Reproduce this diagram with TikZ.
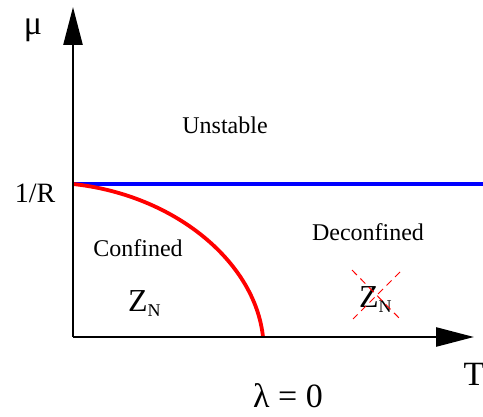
\documentclass[tikz,border=0pt]{standalone}
\usepackage{fontspec}
\setmainfont{Liberation Serif}
\usetikzlibrary{arrows.meta}
\begin{document}
\begin{tikzpicture}[x=1pt,y=-1pt,
  axis/.style={line width=2.6pt,-{Triangle[length=38pt,width=19pt]}},
  lbl/.style={inner sep=0pt,font=\fontsize{24}{24}\selectfont},
  big/.style={inner sep=0pt,font=\fontsize{34}{34}\selectfont},
  zn/.style={inner sep=0pt,anchor=base west,font=\fontsize{32}{32}\selectfont},
  cross/.style={red,line width=1pt,dash pattern=on 7pt off 5pt}]
\useasboundingbox (0,0) rectangle (483,417);
\coordinate (O) at (73,337);
\coordinate (Ytip) at (73,7);
\coordinate (Xtip) at (474,337);
\coordinate (B0) at (73,184);
\coordinate (B1) at (483,184);
\coordinate (R1) at (263,337);
\draw[blue,line width=3.8pt] (B0) -- (B1);
\draw[red,line width=3.8pt] (B0) .. controls (175,195) and (255,262) .. (R1);
\draw[axis] (O) -- (Ytip);
\draw[axis] (O) -- (Xtip);
\node[big] (mu) at (33,30) {μ};
\node[big] (T) at (474,374) {T};
\node[lbl,font=\fontsize{28}{28}\selectfont] (R) at (35,193) {1/R};
\node[lbl] (uns) at (225,125) {Unstable};
\node[lbl] (conf) at (138,248) {Confined};
\node[lbl] (dec) at (368,232) {Deconfined};
\node[zn] (z1) at (128,312) {Z\raisebox{-5pt}{\fontsize{18}{18}\selectfont N}};
\node[zn] (z2) at (359,308) {Z\raisebox{-5pt}{\fontsize{18}{18}\selectfont N}};
\coordinate (c1) at (352,270);
\coordinate (c2) at (400,319);
\coordinate (c3) at (400,272);
\coordinate (c4) at (353,319);
\draw[cross] (c1) -- (c2);
\draw[cross] (c3) -- (c4);
\node[big,anchor=base] (lam) at (288,408) {λ = 0};
\end{tikzpicture}
\end{document}
